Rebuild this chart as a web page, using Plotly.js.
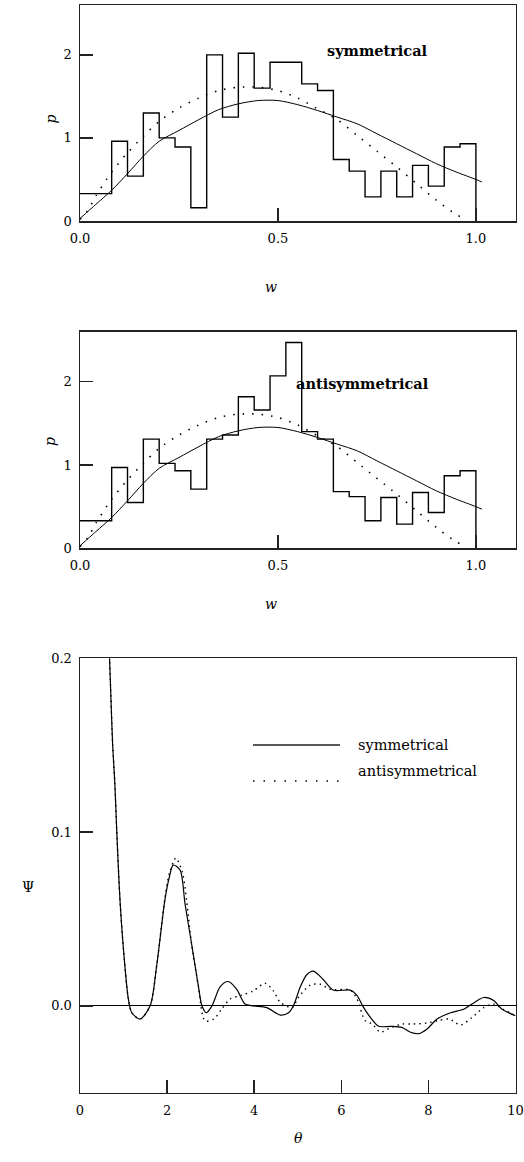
<!DOCTYPE html>
<html>
<head>
<meta charset="utf-8">
<script src="https://cdn.plot.ly/plotly-3.0.1.min.js"></script>
<style>html,body{margin:0;padding:0;background:#fff;}#chart{width:524px;height:1162px;}</style>
</head>
<body>
<div id="chart"></div>
<script>
// ---------- DATA ----------
// histogram bin left edges (last bin ends at 1.0)
const binEdges = [0, 0.08, 0.12, 0.16, 0.20, 0.24, 0.28, 0.32, 0.36, 0.40, 0.44, 0.48, 0.52, 0.56, 0.60, 0.64, 0.68, 0.72, 0.76, 0.80, 0.84, 0.88, 0.92, 0.96];
const histEnd = 1.0;
const pSymHist  = [0.33, 0.96, 0.54, 1.30, 1.00, 0.89, 0.16, 2.00, 1.25, 2.02, 1.60, 1.91, 1.91, 1.65, 1.57, 0.74, 0.60, 0.29, 0.60, 0.29, 0.67, 0.42, 0.89, 0.93];
const pAntiHist = [0.33, 0.97, 0.55, 1.31, 1.02, 0.93, 0.71, 1.31, 1.36, 1.82, 1.66, 2.07, 2.47, 1.40, 1.31, 0.68, 0.62, 0.33, 0.61, 0.29, 0.67, 0.43, 0.87, 0.93];

// smooth curves over w
const wSolid = [0, 0.04, 0.08, 0.12, 0.16, 0.20, 0.25, 0.30, 0.35, 0.40, 0.45, 0.50, 0.55, 0.60, 0.65, 0.70, 0.75, 0.80, 0.85, 0.90, 0.95, 1.00, 1.015];
const pSolid = [0.03, 0.20, 0.37, 0.57, 0.78, 0.96, 1.09, 1.22, 1.34, 1.41, 1.45, 1.45, 1.40, 1.33, 1.25, 1.17, 1.05, 0.93, 0.81, 0.69, 0.59, 0.50, 0.47];
const wDotted = [0, 0.02, 0.04, 0.08, 0.12, 0.16, 0.20, 0.25, 0.30, 0.35, 0.40, 0.45, 0.50, 0.55, 0.60, 0.65, 0.70, 0.75, 0.80, 0.85, 0.90, 0.95, 0.975];
const pDotted = [0.02, 0.13, 0.30, 0.59, 0.82, 1.02, 1.20, 1.36, 1.48, 1.57, 1.61, 1.61, 1.57, 1.48, 1.35, 1.22, 1.03, 0.84, 0.65, 0.45, 0.25, 0.08, 0.02];

// Psi(theta)
const thetaSym = [0.65, 0.705, 0.75, 0.80, 0.84, 0.88, 0.92, 1.00, 1.11, 1.19, 1.38, 1.61, 1.76, 1.95, 2.05, 2.14, 2.30, 2.41, 2.56, 2.72, 2.80, 2.90, 3.03, 3.22, 3.40, 3.60, 3.79, 3.98, 4.29, 4.60, 4.79, 4.90, 5.06, 5.21, 5.36, 5.59, 5.82, 6.21, 6.36, 6.49, 6.67, 6.86, 7.13, 7.39, 7.59, 7.78, 7.97, 8.20, 8.51, 8.81, 9.00, 9.27, 9.50, 9.69, 10.0];
const psiSym   = [0.22, 0.181, 0.150, 0.128, 0.103, 0.080, 0.060, 0.032, 0.004, -0.004, -0.0076, 0.0, 0.023, 0.061, 0.074, 0.081, 0.078, 0.059, 0.036, 0.011, 0.0, -0.004, 0.0, 0.011, 0.014, 0.0095, 0.001, 0.0, -0.001, -0.0053, -0.004, 0.0, 0.011, 0.018, 0.020, 0.015, 0.009, 0.009, 0.006, 0.0, -0.0067, -0.0118, -0.0118, -0.0124, -0.0152, -0.016, -0.0133, -0.0076, -0.004, -0.002, 0.001, 0.0048, 0.003, -0.002, -0.0057];
const thetaAnti = [0.65, 0.705, 0.75, 0.80, 0.84, 0.88, 0.92, 1.00, 1.11, 1.19, 1.38, 1.61, 1.76, 1.95, 2.05, 2.20, 2.35, 2.45, 2.56, 2.72, 2.87, 3.07, 3.25, 3.45, 3.70, 3.98, 4.25, 4.44, 4.60, 4.87, 5.02, 5.29, 5.52, 5.75, 6.21, 6.36, 6.55, 6.71, 6.90, 7.10, 7.39, 7.62, 7.97, 8.20, 8.47, 8.74, 9.00, 9.27, 9.50, 9.72, 10.0];
const psiAnti   = [0.22, 0.181, 0.150, 0.128, 0.103, 0.080, 0.060, 0.032, 0.004, -0.004, -0.0076, 0.0, 0.023, 0.062, 0.076, 0.085, 0.077, 0.060, 0.036, 0.011, -0.0086, -0.0076, -0.002, 0.004, 0.006, 0.0086, 0.013, 0.0086, 0.002, -0.001, 0.005, 0.012, 0.0124, 0.0095, 0.009, 0.004, -0.0086, -0.0105, -0.0152, -0.013, -0.0105, -0.0105, -0.0099, -0.0086, -0.0076, -0.011, -0.0067, -0.001, 0.001, -0.002, -0.0057];

const wTicks = [0, 0.5, 1.0];
const wTickText = ['0.0', '0.5', '1.0'];
const pTicks = [0, 1, 2];
const thetaTicks = [0, 2, 4, 6, 8, 10];
const psiTicks = [0, 0.1, 0.2];
const psiTickText = ['0.0', '0.1', '0.2'];
const legendNames = ['symmetrical', 'antisymmetrical'];

// ---------- BUILD ----------
const W = 524, H = 1162;
const px = (x) => x / W;
const py = (y) => 1 - y / H;

function histTrace(vals, xa, ya) {
  const xs = binEdges.slice(); xs.push(histEnd);
  const ys = vals.slice(); ys.push(0);
  return {x: xs, y: ys, xaxis: xa, yaxis: ya, mode: 'lines', line: {shape: 'hv', color: '#000', width: 1.4}, showlegend: false, hoverinfo: 'none'};
}
function curve(x, y, xa, ya, dash, width, spline) {
  return {x: x, y: y, xaxis: xa, yaxis: ya, mode: 'lines',
    line: {color: '#000', width: width, dash: dash, shape: spline ? 'spline' : 'linear', smoothing: 0.8},
    showlegend: false, hoverinfo: 'none'};
}

const data = [
  histTrace(pSymHist, 'x', 'y'),
  curve(wSolid, pSolid, 'x', 'y', 'solid', 1, true),
  curve(wDotted, pDotted, 'x', 'y', '1.5px,8px', 1.6, true),
  histTrace(pAntiHist, 'x2', 'y2'),
  curve(wSolid, pSolid, 'x2', 'y2', 'solid', 1, true),
  curve(wDotted, pDotted, 'x2', 'y2', '1.5px,8px', 1.6, true),
  curve(thetaSym, psiSym, 'x3', 'y3', 'solid', 1.2, true),
  curve(thetaAnti, psiAnti, 'x3', 'y3', '1.5px,4px', 1.4, true)
];

const tickFont = {family: 'DejaVu Serif', size: 13, color: '#000'};
const xDom = [px(80), px(515.5)];
function ax(extra) {
  return Object.assign({showline: true, mirror: true, linecolor: '#222', linewidth: 1.5,
    ticks: 'inside', ticklen: 13, tickwidth: 1.5, tickcolor: '#222',
    showgrid: false, zeroline: false, tickfont: tickFont, fixedrange: true}, extra);
}

const layout = {
  width: W, height: H,
  margin: {l: 0, r: 0, t: 0, b: 0},
  paper_bgcolor: '#fff', plot_bgcolor: '#fff',
  showlegend: false,
  xaxis:  ax({domain: xDom, range: [0, 1.1], tickvals: wTicks, ticktext: wTickText, anchor: 'y', ticklabelstandoff: 5}),
  yaxis:  ax({domain: [py(221), py(5)], range: [0, 2.6], tickvals: pTicks, anchor: 'x', ticklabelstandoff: 4}),
  xaxis2: ax({domain: xDom, range: [0, 1.1], tickvals: wTicks, ticktext: wTickText, anchor: 'y2', ticklabelstandoff: 5}),
  yaxis2: ax({domain: [py(548.3), py(331.7)], range: [0, 2.6], tickvals: pTicks, anchor: 'x2', ticklabelstandoff: 4}),
  xaxis3: ax({domain: xDom, range: [0, 10], tickvals: thetaTicks, anchor: 'y3', ticklabelstandoff: 5}),
  yaxis3: ax({domain: [py(1092.7), py(658.3)], range: [-0.05, 0.2], tickvals: psiTicks, ticktext: psiTickText, anchor: 'x3',
              zeroline: true, zerolinecolor: '#000', zerolinewidth: 1.3, ticklabelstandoff: 4}),
  shapes: [
    {type: 'line', xref: 'paper', yref: 'paper', x0: px(253), x1: px(340), y0: py(745), y1: py(745), line: {color: '#222', width: 1.5}},
    {type: 'line', xref: 'paper', yref: 'paper', x0: px(253), x1: px(340), y0: py(781), y1: py(781), line: {color: '#000', width: 1.4, dash: '1.5px,9px'}}
  ],
  annotations: [
    {text: '<b>symmetrical</b>', xref: 'paper', yref: 'paper', x: px(430), y: py(40), showarrow: false, font: {family: 'DejaVu Serif', size: 14.5, color: '#000'}},
    {text: '<b>antisymmetrical</b>', xref: 'paper', yref: 'paper', x: px(430.5), y: py(373), showarrow: false, font: {family: 'DejaVu Serif', size: 14.5, color: '#000'}},
    {text: '<i>w</i>', xref: 'paper', yref: 'paper', x: px(271), y: py(277), showarrow: false, font: {family: 'DejaVu Serif', size: 14, color: '#000'}},
    {text: '<i>w</i>', xref: 'paper', yref: 'paper', x: px(271), y: py(604), showarrow: false, font: {family: 'DejaVu Serif', size: 14, color: '#000'}},
    {text: '<i>p</i>', xref: 'paper', yref: 'paper', x: px(40), y: py(113), showarrow: false, textangle: -90, font: {family: 'DejaVu Serif', size: 14, color: '#000'}},
    {text: '<i>p</i>', xref: 'paper', yref: 'paper', x: px(40), y: py(442), showarrow: false, textangle: -90, font: {family: 'DejaVu Serif', size: 14, color: '#000'}},
    {text: 'Ψ', xref: 'paper', yref: 'paper', x: px(20), y: py(897), showarrow: false, font: {family: 'DejaVu Serif', size: 14, color: '#000'}},
    {text: '<i>θ</i>', xref: 'paper', yref: 'paper', x: px(298), y: py(1148), showarrow: false, font: {family: 'DejaVu Serif', size: 14, color: '#000'}},
    {text: legendNames[0], xref: 'paper', yref: 'paper', x: px(356), y: py(745), xanchor: 'left', showarrow: false, font: {family: 'DejaVu Serif', size: 14.5, color: '#000'}},
    {text: legendNames[1], xref: 'paper', yref: 'paper', x: px(356), y: py(781), xanchor: 'left', showarrow: false, font: {family: 'DejaVu Serif', size: 14.5, color: '#000'}}
  ]
};

Plotly.newPlot('chart', data, layout, {staticPlot: true, displayModeBar: false});
</script>
</body>
</html>
